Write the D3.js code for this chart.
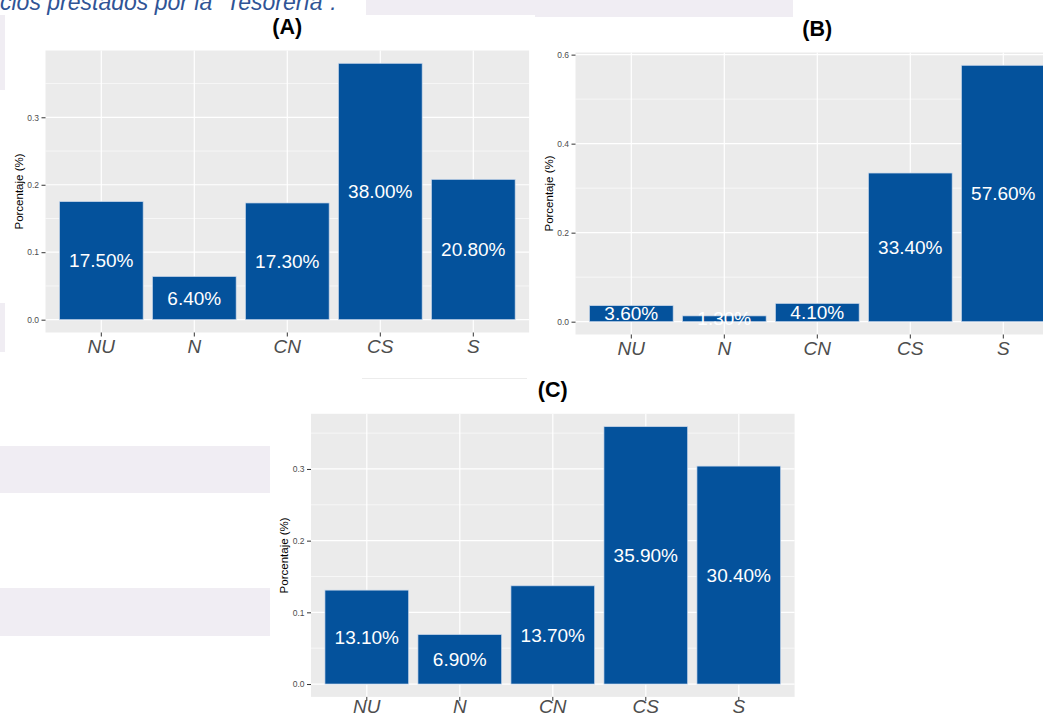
<!DOCTYPE html>
<html>
<head>
<meta charset="utf-8">
<script src="https://cdn.jsdelivr.net/npm/d3@7"></script>
<style>
  html, body { margin: 0; padding: 0; background: #ffffff; }
  svg { display: block; font-family: "Liberation Sans", Arial, sans-serif; }
</style>
</head>
<body>
<svg id="chart" width="1043" height="717"></svg>
<script>
// Response categories shared by the three panels
const categories = ["NU", "N", "CN", "CS", "S"];

// Share of answers per category (fraction of 1)
const valuesA = [0.175, 0.064, 0.173, 0.380, 0.208];
const valuesB = [0.036, 0.013, 0.041, 0.334, 0.576];
const valuesC = [0.131, 0.069, 0.137, 0.359, 0.304];

// Major / minor y breaks per panel
const ticksA = [0, 0.1, 0.2, 0.3];
const ticksB = [0, 0.2, 0.4, 0.6];
const ticksC = [0, 0.1, 0.2, 0.3];
const minorA = [0.05, 0.15, 0.25, 0.35];
const minorB = [0.1, 0.3, 0.5];
const minorC = [0.05, 0.15, 0.25, 0.35];

const panelTitles = ["(A)", "(B)", "(C)"];
const yAxisTitle = "Porcentaje (%)";
const headerText = "cios prestados por la \u201CTesorería\u201D.";

// Panel boxes (plot area in page pixels)
const layout = [
  { left: 45.5,  top: 50.5,  width: 483.6, bottom: 332.5, labelPad: 3 },
  { left: 575.5, top: 52.5,  width: 483.6, bottom: 334.5, labelPad: 3 },
  { left: 311,   top: 413.8, width: 483.6, bottom: 696.9, labelPad: -1.5 }
];

const panels = [
  { title: panelTitles[0], values: valuesA, ticks: ticksA, minor: minorA, box: layout[0] },
  { title: panelTitles[1], values: valuesB, ticks: ticksB, minor: minorB, box: layout[1] },
  { title: panelTitles[2], values: valuesC, ticks: ticksC, minor: minorC, box: layout[2] }
];

const svg = d3.select("#chart");

// Surrounding page fragments
const lavender = "#F0EDF3";
const pageRects = [
  [366, 0, 169, 15], [535, 0, 258, 17],
  [0, 15, 5, 75], [0, 303, 5, 49],
  [0, 446, 270, 47], [0, 588, 270, 48]
];
svg.selectAll("rect.page").data(pageRects).join("rect")
  .attr("class", "page")
  .attr("x", d => d[0]).attr("y", d => d[1])
  .attr("width", d => d[2]).attr("height", d => d[3])
  .attr("fill", lavender);

svg.append("line")
  .attr("x1", 362).attr("x2", 527).attr("y1", 378.5).attr("y2", 378.5)
  .attr("stroke", "#ECECEC").attr("stroke-width", 1);

svg.append("text")
  .attr("x", 0).attr("y", 9.5)
  .attr("font-size", 23).attr("font-style", "italic")
  .attr("fill", "#2F5496")
  .text(headerText);

const barFill = "#04529C";
const pct = d3.format(".2%");
const tickFmt = d3.format(".1f");

panels.forEach(p => {
  const b = p.box;
  const g = svg.append("g");
  const maxV = d3.max(p.values);
  const pad = maxV * 0.05;

  const x = d3.scaleBand()
    .domain(categories)
    .range([b.left, b.left + b.width])
    .paddingInner(0.1)
    .paddingOuter(0.15);

  const y = d3.scaleLinear()
    .domain([-pad, maxV + pad])
    .range([b.bottom, b.top]);

  const cx = c => x(c) + x.bandwidth() / 2;

  // panel background
  g.append("rect")
    .attr("x", b.left).attr("y", b.top)
    .attr("width", b.width).attr("height", b.bottom - b.top)
    .attr("fill", "#EBEBEB");

  // minor grid
  g.selectAll("line.minor").data(p.minor).join("line")
    .attr("x1", b.left).attr("x2", b.left + b.width)
    .attr("y1", d => y(d)).attr("y2", d => y(d))
    .attr("stroke", "#ffffff").attr("stroke-width", 0.6);

  // major grid
  g.selectAll("line.major").data(p.ticks).join("line")
    .attr("x1", b.left).attr("x2", b.left + b.width)
    .attr("y1", d => y(d)).attr("y2", d => y(d))
    .attr("stroke", "#ffffff").attr("stroke-width", 1.2);

  g.selectAll("line.vmajor").data(categories).join("line")
    .attr("x1", d => cx(d)).attr("x2", d => cx(d))
    .attr("y1", b.top).attr("y2", b.bottom)
    .attr("stroke", "#ffffff").attr("stroke-width", 1.2);

  // bars
  g.selectAll("rect.bar").data(p.values).join("rect")
    .attr("x", (d, i) => x(categories[i]))
    .attr("y", d => y(d))
    .attr("width", x.bandwidth())
    .attr("height", d => y(0) - y(d))
    .attr("fill", barFill)
    .attr("stroke", "#c9d7ea").attr("stroke-width", 0.7);

  // value labels centred in each bar
  g.selectAll("text.val").data(p.values).join("text")
    .attr("x", (d, i) => cx(categories[i]))
    .attr("y", d => y(d / 2))
    .attr("dy", "0.35em")
    .attr("text-anchor", "middle")
    .attr("font-size", 19)
    .attr("fill", "#ffffff")
    .text(d => pct(d));

  // y axis
  const ya = g.append("g")
    .attr("transform", `translate(${b.left},0)`)
    .call(d3.axisLeft(y).tickValues(p.ticks).tickFormat(tickFmt).tickSize(4).tickPadding(2.5));
  ya.select(".domain").remove();
  ya.selectAll(".tick line").attr("stroke", "#333333");
  ya.selectAll(".tick text").attr("fill", "#4D4D4D").attr("font-size", 8.5)
    .attr("font-family", "Liberation Sans, Arial, sans-serif");

  // x axis
  const xa = g.append("g")
    .attr("transform", `translate(0,${b.bottom})`)
    .call(d3.axisBottom(x).tickSize(4).tickPadding(b.labelPad));
  xa.select(".domain").remove();
  xa.selectAll(".tick line").attr("stroke", "#333333");
  xa.selectAll(".tick text").attr("fill", "#4D4D4D").attr("font-size", 19)
    .attr("font-style", "italic")
    .attr("font-family", "Liberation Sans, Arial, sans-serif");

  // y axis title
  const midY = (b.top + b.bottom) / 2;
  g.append("text")
    .attr("transform", `translate(${b.left - 23},${midY}) rotate(-90)`)
    .attr("text-anchor", "middle")
    .attr("font-size", 11.5)
    .attr("fill", "#000000")
    .text(yAxisTitle);

  // panel title
  g.append("text")
    .attr("x", b.left + b.width / 2)
    .attr("y", b.top - 16.5)
    .attr("text-anchor", "middle")
    .attr("font-size", 21.5)
    .attr("font-weight", "bold")
    .attr("fill", "#000000")
    .text(p.title);
});
</script>
</body>
</html>
